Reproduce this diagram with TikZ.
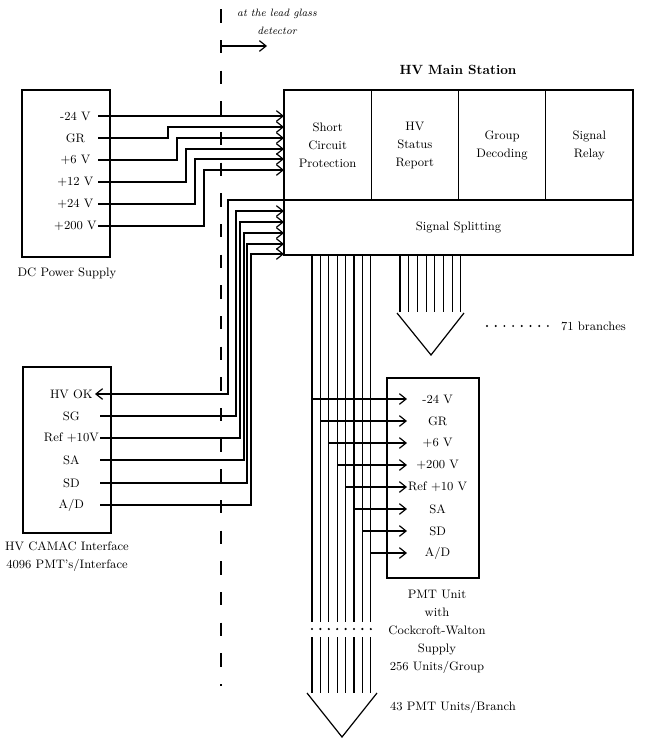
\documentclass[tikz,border=0pt]{standalone}
\usepackage{tikz}
\usetikzlibrary{positioning,arrows.meta}

\begin{document}
\begin{tikzpicture}[x=0.75pt,y=-0.75pt,line width=0.9pt,
	font=\fontsize{9.2}{13.5}\selectfont,
	box/.style={draw,line width=0.9pt,inner sep=0pt,outer sep=0pt},
	cell/.style={box,minimum width=65.44pt,minimum height=82.5pt,align=center},
	dclbl/.style={inner sep=0pt,minimum width=33pt,anchor=east},
	camlbl/.style={inner sep=0pt,minimum width=42pt,anchor=east},
	pmtlbl/.style={inner sep=0pt,minimum width=45pt,anchor=west},
	feed/.style={-{Straight Barb[length=5pt,width=8pt]}},
	back/.style={{Straight Barb[length=5pt,width=8pt]}-},
	wire/.style={line width=0.8pt}]
	\useasboundingbox (0,0) rectangle (646,739);
	\draw[dash pattern=on 10pt off 13pt,dash phase=-7pt] (221,0) -- (221,686);
	\node[font=\fontsize{8}{14}\selectfont\itshape,align=center] (lgd) at (277,22) {at the lead glass\\detector};
	\coordinate (lgl) at (221,46);
	\coordinate (lgr) at (267,46);
	\draw[feed] (lgl) -- (lgr);
	\node[cell,anchor=north west] (scp) at (284,90) {Short\\Circuit\\Protection};
	\node[cell,right=0pt of scp] (hvsr) {HV\\Status\\Report};
	\node[cell,right=0pt of hvsr] (gdec) {Group\\Decoding};
	\node[cell,right=0pt of gdec] (srel) {Signal\\Relay};
	\node[box,minimum width=261.75pt,minimum height=41.25pt,anchor=north west] (split) at (scp.south west) {Signal Splitting};
	\node[font=\fontsize{10}{12}\selectfont\bfseries] (hvms) at (458,70) {HV Main Station};
	\node[box,minimum width=66pt,minimum height=125.25pt,anchor=north west] (dcps) at (22,90) {};
	\node (dcname) at (67,273) {DC Power Supply};
	\foreach \v/\y/\n in {-24 V/116/1,GR/138/2,+6 V/160/3,+12 V/182/4,+24 V/204/5,+200 V/226/6} \node[dclbl] (dc\n) at (98,\y) {\v};
	\draw[feed] (dc1.east) -- (dc1.east -| scp.west);
	\foreach \n/\bx/\ay in {2/168/127,3/177/138,4/186/149,5/195/159,6/204/170} \draw[feed] (dc\n.east) -| (\bx,\ay) -- (\bx,\ay -| scp.west);
	\node[box,minimum width=66pt,minimum height=124.5pt,anchor=north west] (camac) at (23,367) {};
	\node[align=center] (camname) at (67,557) {HV CAMAC Interface\\4096 PMT's/Interface};
	\foreach \v/\y/\n in {HV OK/394/1,SG/416/2,Ref +10V/438/3,SA/460/4,SD/483/5,{A/D}/505/6} \node[camlbl] (cam\n) at (100,\y) {\v};
	\draw[back,shorten <=-3.75pt] (cam1.east) -| (228,200) -- (228,200 -| split.west);
	\foreach \n/\bx/\ay in {2/236/211,3/240/222,4/244/233,5/247/244,6/251/254} \draw[feed] (cam\n.east) -| (\bx,\ay) -- (\bx,\ay -| split.west);
	\foreach \i [evaluate=\i as \x using 312+8.4*\i] in {0,...,7} {
		\draw[wire] (\x,0 |- split.south) -- (\x,622);
		\fill (\x,629) circle (0.9pt);
		\draw[wire] (\x,637) -- (\x,693);
	}
	\draw (307,693) -- (342,737) -- (377,693);
	\foreach \i [evaluate=\i as \x using 400+8.7*\i] in {0,...,7} \draw[wire] (\x,0 |- split.south) -- (\x,312);
	\draw (397,313) -- (431,355) -- (464,313);
	\foreach \i [evaluate=\i as \x using 487+8.7*\i] in {0,...,7} \fill (\x,326) circle (0.8pt);
	\node[anchor=west] (br71) at (556,326) {71 branches};
	\node[box,minimum width=69pt,minimum height=150pt,anchor=north west] (pmt) at (387,378) {};
	\foreach \v/\n [evaluate=\n as \x using 312+8.4*(\n-1), evaluate=\n as \y using 399+22*(\n-1)] in {-24 V/1,GR/2,+6 V/3,+200 V/4,Ref +10 V/5,SA/6,SD/7,{A/D}/8} {
		\node[pmtlbl] (pm\n) at (407,\y) {\v};
		\draw[feed] (\x,0 |- pm\n.west) -- (pm\n.west);
	}
	\node[align=center] (pmtname) at (437,632) {PMT Unit\\with\\Cockcroft-Walton\\Supply\\256 Units/Group};
	\node (perbr) at (453,707) {43 PMT Units/Branch};
\end{tikzpicture}
\end{document}
